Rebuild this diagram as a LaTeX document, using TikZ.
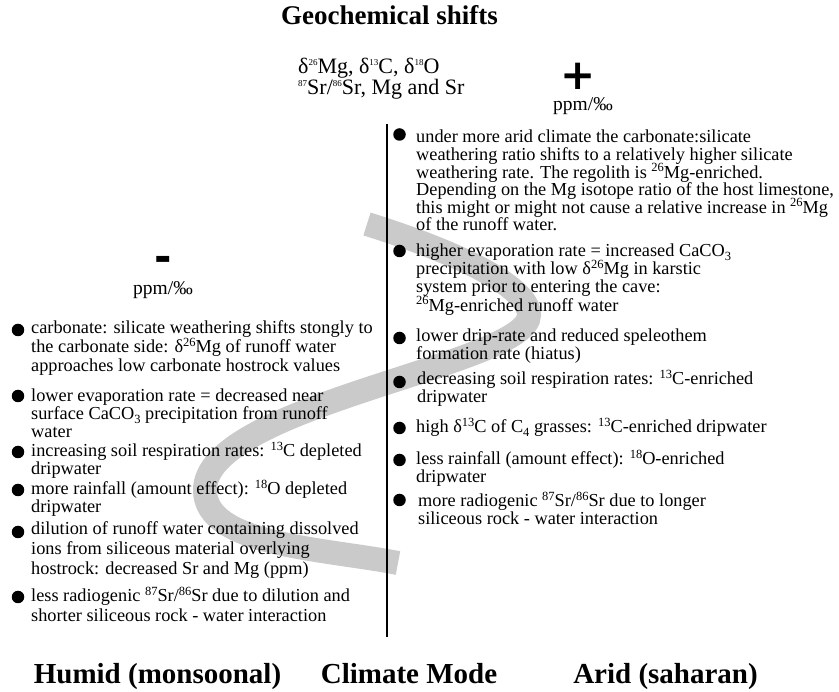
\documentclass[tikz,border=0pt]{standalone}
\usepackage{fontspec}
\setmainfont{Liberation Serif}
\newfontfamily\signfont{DejaVu Sans}
\definecolor{bandgray}{RGB}{202,202,202}
\newcommand{\ssup}[1]{\raisebox{8pt}{\fontsize{9}{9}\selectfont #1}}
\newcommand{\bodyfont}{\fontsize{18.3}{20}\selectfont}
\newcommand{\bsup}[1]{\raisebox{6.5pt}{\fontsize{12.5}{12.5}\selectfont #1}}
\newcommand{\bsub}[1]{\raisebox{-3.5pt}{\fontsize{12.5}{12.5}\selectfont #1}}
\begin{document}
\begin{tikzpicture}[x=1pt,y=-1pt,
  body/.style={anchor=base west, inner sep=0pt, font=\bodyfont, text height=12.5pt, text depth=3.5pt},
  dot/.style={circle, fill=black, inner sep=0pt, minimum size=12.5pt},
  title/.style={anchor=base, inner sep=0pt, font=\fontsize{27}{30}\selectfont\bfseries},
  mode/.style={anchor=base, inner sep=0pt, font=\fontsize{29}{32}\selectfont\bfseries},
  sub/.style={anchor=base west, inner sep=0pt, font=\fontsize{22}{24}\selectfont},
  unit/.style={anchor=base west, inner sep=0pt, font=\fontsize{19.5}{22}\selectfont},
  sign/.style={anchor=center, inner sep=0pt, font=\fontsize{42}{44}\selectfont\signfont\bfseries, text height=22pt, text depth=0pt},
  band/.style={line width=24pt, draw=bandgray},
  axis/.style={line width=2pt, draw=black}]
\useasboundingbox (0,0) rectangle (839,692);

% grey S-shaped band
\draw[band] (367,224) .. controls (450,250) and (529,285) .. (529,315)
  .. controls (529,365) and (205,405) .. (205,490)
  .. controls (205,545) and (320,548) .. (398,563);

% title
\node[title] (title) at (389.5,25) {Geochemical shifts};
\node[sub] (sub1) at (298,74) {δ\ssup{26}Mg, δ\ssup{13}C, δ\ssup{18}O};
\node[sub] (sub2) at (298,95) {\ssup{87}Sr/\ssup{86}Sr, Mg and Sr};

% signs
\node[sign] (plus) at (578,79) {+};
\node[unit] (punit) at (553,111) {ppm/‰};
\node[sign] (minus) at (163.5,261) {-};
\node[unit] (munit) at (133,295) {ppm/‰};

% axis
\coordinate (vtop) at (386.5,124);
\coordinate (vbot) at (386.5,637);
\draw[axis] (vtop) -- (vbot);

% right column
\node[dot] (rb1) at (399.5,134.5) {};
\node[body] (r1a) at (416,143) {under more arid climate the carbonate:silicate};
\node[body] (r1b) at (416,160.6) {weathering ratio shifts to a relatively higher silicate};
\node[body] (r1c) at (416,178.2) {weathering rate. The regolith is \bsup{26}Mg-enriched.};
\node[body] (r1d) at (416,195.8) {Depending on the Mg isotope ratio of the host limestone,};
\node[body] (r1e) at (416,213.4) {this might or might not cause a relative increase in \bsup{26}Mg};
\node[body] (r1f) at (416,231) {of the runoff water.};

\node[dot] (rb2) at (399.5,251) {};
\node[body] (r2a) at (416,257) {higher evaporation rate = increased CaCO\bsub{3}};
\node[body] (r2b) at (416,275) {precipitation with low δ\bsup{26}Mg in karstic};
\node[body] (r2c) at (416,293) {system prior to entering the cave:};
\node[body] (r2d) at (416,311.5) {\bsup{26}Mg-enriched runoff water};

\node[dot] (rb3) at (399.5,338) {};
\node[body] (r3a) at (416,342) {lower drip-rate and reduced speleothem};
\node[body] (r3b) at (416,360) {formation rate (hiatus)};

\node[dot] (rb4) at (399.5,382) {};
\node[body] (r4a) at (417,385) {decreasing soil respiration rates: \bsup{13}C-enriched};
\node[body] (r4b) at (417,403) {dripwater};

\node[dot] (rb5) at (399.5,428) {};
\node[body] (r5a) at (416,433) {high δ\bsup{13}C of C\bsub{4} grasses: \bsup{13}C-enriched dripwater};

\node[dot] (rb6) at (399.5,460) {};
\node[body] (r6a) at (416,465) {less rainfall (amount effect): \bsup{18}O-enriched};
\node[body] (r6b) at (416,483) {dripwater};

\node[dot] (rb7) at (399.5,500) {};
\node[body] (r7a) at (418,507) {more radiogenic \bsup{87}Sr/\bsup{86}Sr due to longer};
\node[body] (r7b) at (418,525) {siliceous rock - water interaction};

% left column
\node[dot] (lb1) at (18,330) {};
\node[body] (l1a) at (31,334) {carbonate: silicate weathering shifts stongly to};
\node[body] (l1b) at (31,353) {the carbonate side: δ\bsup{26}Mg of runoff water};
\node[body] (l1c) at (31,372) {approaches low carbonate hostrock values};

\node[dot] (lb2) at (18,396) {};
\node[body] (l2a) at (31,402) {lower evaporation rate = decreased near};
\node[body] (l2b) at (31,420) {surface CaCO\bsub{3} precipitation from runoff};
\node[body] (l2c) at (31,438) {water};

\node[dot] (lb3) at (18,452) {};
\node[body] (l3a) at (31,457) {increasing soil respiration rates: \bsup{13}C depleted};
\node[body] (l3b) at (31,475) {dripwater};

\node[dot] (lb4) at (18,490) {};
\node[body] (l4a) at (31,495) {more rainfall (amount effect): \bsup{18}O depleted};
\node[body] (l4b) at (31,513) {dripwater};

\node[dot] (lb5) at (18,532) {};
\node[body] (l5a) at (31,535) {dilution of runoff water containing dissolved};
\node[body] (l5b) at (31,555) {ions from siliceous material overlying};
\node[body] (l5c) at (31,575) {hostrock: decreased Sr and Mg (ppm)};

\node[dot] (lb6) at (18,597) {};
\node[body] (l6a) at (31,602) {less radiogenic \bsup{87}Sr/\bsup{86}Sr due to dilution and};
\node[body] (l6b) at (31,622) {shorter siliceous rock - water interaction};

% bottom labels
\node[mode] (humid) at (157.5,683) {Humid (monsoonal)};
\node[mode] (climate) at (409,683) {Climate Mode};
\node[mode] (arid) at (665.5,683) {Arid (saharan)};
\end{tikzpicture}
\end{document}
